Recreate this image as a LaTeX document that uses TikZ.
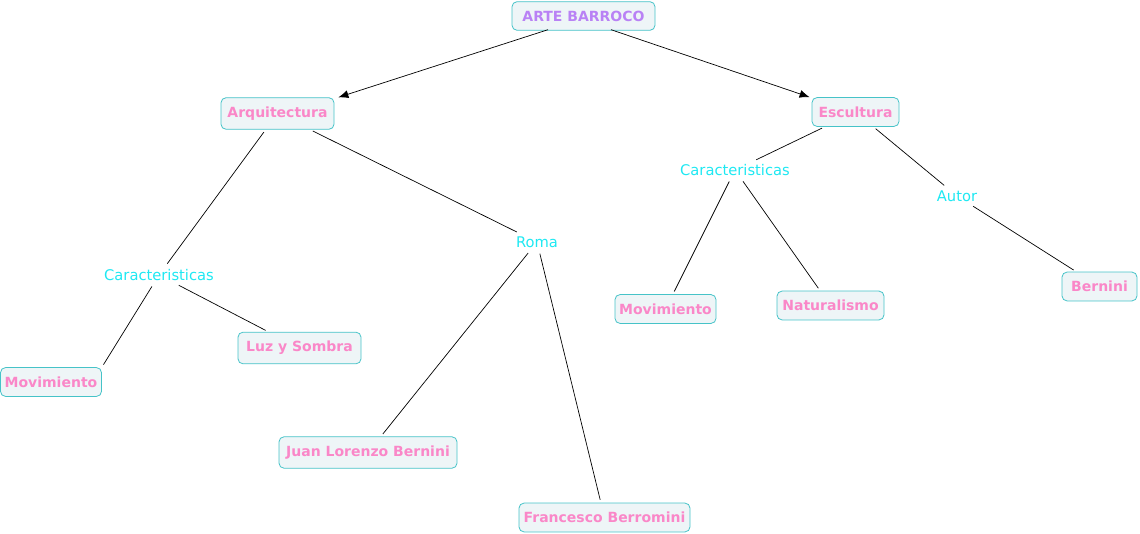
\documentclass[tikz,border=0pt]{standalone}
\usepackage{fontspec}
\newfontfamily\boxfont{DejaVu Sans}
\newfontfamily\labfont{DejaVu Sans}
\usetikzlibrary{arrows.meta,calc}
\definecolor{boxpink}{RGB}{250,135,200}
\definecolor{boxviolet}{RGB}{185,130,245}
\definecolor{boxline}{RGB}{70,195,200}
\definecolor{boxfill}{RGB}{238,245,247}
\definecolor{labcyan}{RGB}{30,232,242}
\tikzset{
  concept/.style={draw=boxline, fill=boxfill, rounded corners=5pt, text=boxpink,
    font=\boxfont\bfseries\fontsize{14}{16}\selectfont, inner xsep=4pt, inner ysep=9pt, line width=0.8pt},
  linklabel/.style={text=labcyan, font=\labfont\fontsize{14.7}{17}\selectfont, inner sep=3pt},
  conn/.style={draw=black, line width=0.7pt, shorten <=3pt, shorten >=3pt},
  arr/.style={draw=black, line width=0.7pt, -{Latex[length=10pt,width=8pt]}}
}
\begin{document}
\begin{tikzpicture}[x=1pt,y=-1pt]
\useasboundingbox (0,0) rectangle (1140,534);
\node[concept, text=boxviolet, minimum width=143pt] (arte) at (583.5,16) {ARTE BARROCO};
\node[concept, minimum width=113pt] (arq) at (277.5,113.5) {Arquitectura};
\node[concept, minimum width=87pt] (esc) at (855.5,112) {Escultura};
\node[linklabel] (car1) at (159,275) {Caracteristicas};
\node[linklabel] (roma) at (537,242) {Roma};
\node[linklabel] (car2) at (735,170) {Caracteristicas};
\node[linklabel] (autor) at (957,196) {Autor};
\node[concept, minimum width=101pt] (mov1) at (51,382) {Movimiento};
\node[concept, minimum width=123pt] (luz) at (299.5,348) {Luz y Sombra};
\node[concept, minimum width=178pt] (juan) at (368,452.5) {Juan Lorenzo Bernini};
\node[concept, minimum width=171pt] (fran) at (604.5,517.5) {Francesco Berromini};
\node[concept, minimum width=101pt] (mov2) at (665.5,309) {Movimiento};
\node[concept, minimum width=107pt] (nat) at (830.5,305.5) {Naturalismo};
\node[concept, minimum width=75pt] (bern) at (1099.5,286.5) {Bernini};
\draw[arr] ($(arte.south)+(-35.5,-1)$) -- ($(arq.north east)+(4,0)$);
\draw[arr] ($(arte.south)+(27.5,-1)$) -- ($(esc.north west)+(-2,0)$);
\draw[conn] (arq) -- (car1);
\draw[conn] (car1) -- (mov1.north east);
\draw[conn] (car1) -- (luz);
\draw[conn] (arq) -- (roma);
\draw[conn] (roma) -- (juan);
\draw[conn] (roma) -- (fran);
\draw[conn] (esc) -- (car2);
\draw[conn] (car2) -- (mov2);
\draw[conn] (car2) -- (nat);
\draw[conn] (esc) -- (autor);
\draw[conn] (autor) -- (bern);
\end{tikzpicture}
\end{document}
